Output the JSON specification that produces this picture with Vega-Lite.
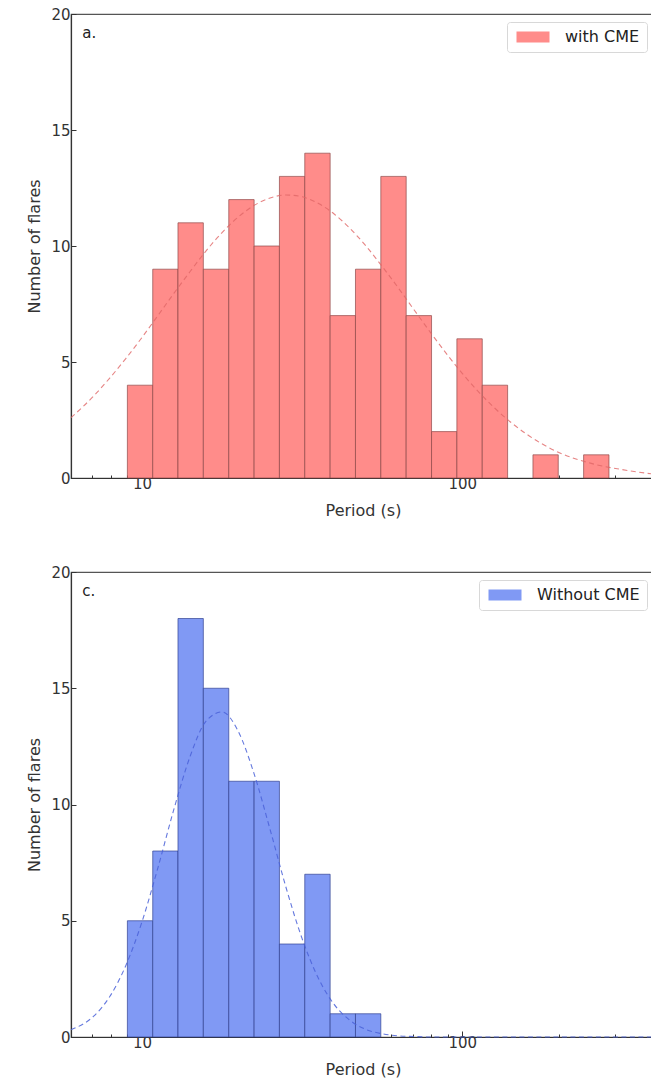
{
  "$schema": "https://vega.github.io/schema/vega-lite/v6.json",
  "background": "white",
  "padding": {"left": 26, "top": 6, "right": 0, "bottom": 0},
  "spacing": 45,
  "config": {
    "font": "DejaVu Sans",
    "view": {"stroke": "#555", "strokeWidth": 1.2},
    "axis": {
      "grid": false, "domainColor": "#333", "tickColor": "#333", "labelColor": "#333", "titleColor": "#333",
      "labelFont": "DejaVu Sans", "titleFont": "DejaVu Sans", "labelFontSize": 15, "titleFontSize": 16,
      "titleFontWeight": "normal", "domainWidth": 1.2, "tickWidth": 1, "zindex": 1
    },
    "legend": {
      "title": null, "orient": "top-right", "offset": 8, "padding": 7, "fillColor": "white",
      "strokeColor": "#d8d8d8", "cornerRadius": 3, "symbolType": "M-1,-1L5,-1L5,1L-1,1Z",
      "symbolSize": 121, "symbolStrokeWidth": 0, "symbolOpacity": 1, "labelFontSize": 16,
      "labelColor": "#222", "labelOffset": 35, "labelFont": "DejaVu Sans"
    }
  },
  "datasets": {
    "bars_with": [
      {"start": 9.00, "end": 10.80, "count": 4, "group": "with CME"},
      {"start": 10.80, "end": 12.95, "count": 9, "group": "with CME"},
      {"start": 12.95, "end": 15.54, "count": 11, "group": "with CME"},
      {"start": 15.54, "end": 18.66, "count": 9, "group": "with CME"},
      {"start": 18.66, "end": 22.39, "count": 12, "group": "with CME"},
      {"start": 22.39, "end": 26.86, "count": 10, "group": "with CME"},
      {"start": 26.86, "end": 32.23, "count": 13, "group": "with CME"},
      {"start": 32.23, "end": 38.68, "count": 14, "group": "with CME"},
      {"start": 38.68, "end": 46.41, "count": 7, "group": "with CME"},
      {"start": 46.41, "end": 55.69, "count": 9, "group": "with CME"},
      {"start": 55.69, "end": 66.83, "count": 13, "group": "with CME"},
      {"start": 66.83, "end": 80.20, "count": 7, "group": "with CME"},
      {"start": 80.20, "end": 96.23, "count": 2, "group": "with CME"},
      {"start": 96.23, "end": 115.5, "count": 6, "group": "with CME"},
      {"start": 115.5, "end": 138.6, "count": 4, "group": "with CME"},
      {"start": 166.3, "end": 199.5, "count": 1, "group": "with CME"},
      {"start": 239.4, "end": 287.3, "count": 1, "group": "with CME"}
    ],
    "bars_without": [
      {"start": 9.00, "end": 10.80, "count": 5, "group": "Without CME"},
      {"start": 10.80, "end": 12.95, "count": 8, "group": "Without CME"},
      {"start": 12.95, "end": 15.54, "count": 18, "group": "Without CME"},
      {"start": 15.54, "end": 18.66, "count": 15, "group": "Without CME"},
      {"start": 18.66, "end": 22.39, "count": 11, "group": "Without CME"},
      {"start": 22.39, "end": 26.86, "count": 11, "group": "Without CME"},
      {"start": 26.86, "end": 32.23, "count": 4, "group": "Without CME"},
      {"start": 32.23, "end": 38.68, "count": 7, "group": "Without CME"},
      {"start": 38.68, "end": 46.41, "count": 1, "group": "Without CME"},
      {"start": 46.41, "end": 55.69, "count": 1, "group": "Without CME"}
    ],
    "fit_with": [
      {"period": 6.0, "fit": 2.60}, {"period": 7.08, "fit": 3.55}, {"period": 7.94, "fit": 4.32},
      {"period": 8.91, "fit": 5.16}, {"period": 10, "fit": 6.06}, {"period": 11.22, "fit": 7.01},
      {"period": 12.59, "fit": 7.97}, {"period": 14.13, "fit": 8.90}, {"period": 15.85, "fit": 9.79},
      {"period": 17.78, "fit": 10.58}, {"period": 19.95, "fit": 11.24}, {"period": 22.39, "fit": 11.75},
      {"period": 25.12, "fit": 12.07}, {"period": 28.18, "fit": 12.20}, {"period": 31.62, "fit": 12.12},
      {"period": 35.48, "fit": 11.84}, {"period": 39.81, "fit": 11.38}, {"period": 44.67, "fit": 10.75},
      {"period": 50.12, "fit": 9.99}, {"period": 56.23, "fit": 9.12}, {"period": 63.1, "fit": 8.20},
      {"period": 70.79, "fit": 7.24}, {"period": 79.43, "fit": 6.29}, {"period": 89.13, "fit": 5.37},
      {"period": 100, "fit": 4.51}, {"period": 125.9, "fit": 3.03}, {"period": 158.5, "fit": 1.90},
      {"period": 199.5, "fit": 1.11}, {"period": 251.2, "fit": 0.64}, {"period": 316.2, "fit": 0.36},
      {"period": 400, "fit": 0.16}
    ],
    "fit_without": [
      {"period": 6.0, "fit": 0.31}, {"period": 7.08, "fit": 0.91}, {"period": 7.94, "fit": 1.75},
      {"period": 8.91, "fit": 3.09}, {"period": 10, "fit": 4.96}, {"period": 11.22, "fit": 7.30},
      {"period": 12.59, "fit": 9.82}, {"period": 14.13, "fit": 12.07}, {"period": 15.85, "fit": 13.59},
      {"period": 17.78, "fit": 13.98}, {"period": 19.95, "fit": 13.16}, {"period": 22.39, "fit": 11.32},
      {"period": 25.12, "fit": 8.92}, {"period": 28.18, "fit": 6.42}, {"period": 31.62, "fit": 4.23},
      {"period": 35.48, "fit": 2.55}, {"period": 39.81, "fit": 1.40}, {"period": 44.67, "fit": 0.71},
      {"period": 50.12, "fit": 0.32}, {"period": 56.23, "fit": 0.14}, {"period": 63.1, "fit": 0.05},
      {"period": 70.79, "fit": 0.02}, {"period": 79.43, "fit": 0.0}, {"period": 100, "fit": 0.0},
      {"period": 200, "fit": 0.0}, {"period": 400, "fit": 0.0}
    ],
    "label_a": [{"label": "a."}],
    "label_c": [{"label": "c."}]
  },
  "vconcat": [
    {
      "width": 584, "height": 464,
      "resolve": {"axis": {"x": "independent"}},
      "layer": [
        {
          "data": {"name": "bars_with"},
          "mark": {"type": "rect", "stroke": "#8b4545", "strokeWidth": 0.8, "strokeOpacity": 0.85},
          "encoding": {
            "x": {"field": "start", "type": "quantitative", "scale": {"type": "log", "domain": [6, 400], "nice": false},
                  "axis": {"orient": "bottom", "values": [10, 100], "format": "d", "tickSize": -6, "labelPadding": 4, "title": "Period (s)", "titlePadding": 11}},
            "x2": {"field": "end"},
            "y": {"field": "count", "type": "quantitative", "scale": {"domain": [0, 20], "nice": false},
                  "axis": {"values": [0, 5, 10, 15, 20], "tickSize": -5, "labelPadding": 6, "title": "Number of flares", "titlePadding": 8}},
            "y2": {"datum": 0},
            "color": {"field": "group", "type": "nominal", "scale": {"domain": ["with CME"], "range": ["#ff8c8a"]}}
          }
        },
        {
          "data": {"name": "fit_with"},
          "mark": {"type": "line", "color": "#e06666", "strokeWidth": 1.1, "strokeDash": [5, 3.5], "interpolate": "monotone", "opacity": 0.8},
          "encoding": {
            "x": {"field": "period", "type": "quantitative", "scale": {"type": "log", "domain": [6, 400], "nice": false},
                  "axis": {"orient": "bottom", "values": [6, 7, 8, 9, 20, 30, 40, 50, 60, 70, 80, 90, 200, 300], "labels": false, "tickSize": -3, "domain": false, "title": null}},
            "y": {"field": "fit", "type": "quantitative", "scale": {"domain": [0, 20], "nice": false},
                  "axis": {"values": [0, 5, 10, 15, 20], "tickSize": -5, "labelPadding": 6, "title": "Number of flares", "titlePadding": 8}}
          }
        },
        {
          "data": {"name": "label_a"},
          "mark": {"type": "text", "align": "left", "baseline": "middle", "fontSize": 15, "color": "#222"},
          "encoding": {
            "x": {"datum": 6.51, "type": "quantitative", "scale": {"type": "log", "domain": [6, 400], "nice": false}, "axis": null},
            "y": {"datum": 19.2, "type": "quantitative", "scale": {"domain": [0, 20], "nice": false},
                  "axis": {"values": [0, 5, 10, 15, 20], "tickSize": -5, "labelPadding": 6, "title": "Number of flares", "titlePadding": 8}},
            "text": {"field": "label"}
          }
        }
      ]
    },
    {
      "width": 584, "height": 465,
      "resolve": {"axis": {"x": "independent"}},
      "layer": [
        {
          "data": {"name": "bars_without"},
          "mark": {"type": "rect", "stroke": "#2e3f8f", "strokeWidth": 0.8, "strokeOpacity": 0.85},
          "encoding": {
            "x": {"field": "start", "type": "quantitative", "scale": {"type": "log", "domain": [6, 400], "nice": false},
                  "axis": {"orient": "bottom", "values": [10, 100], "format": "d", "tickSize": -6, "labelPadding": 4, "title": "Period (s)", "titlePadding": 11}},
            "x2": {"field": "end"},
            "y": {"field": "count", "type": "quantitative", "scale": {"domain": [0, 20], "nice": false},
                  "axis": {"values": [0, 5, 10, 15, 20], "tickSize": -5, "labelPadding": 6, "title": "Number of flares", "titlePadding": 8}},
            "y2": {"datum": 0},
            "color": {"field": "group", "type": "nominal", "scale": {"domain": ["Without CME"], "range": ["#8099f4"]}}
          }
        },
        {
          "data": {"name": "fit_without"},
          "mark": {"type": "line", "color": "#4a62d8", "strokeWidth": 1.1, "strokeDash": [5, 3.5], "interpolate": "monotone", "opacity": 0.85},
          "encoding": {
            "x": {"field": "period", "type": "quantitative", "scale": {"type": "log", "domain": [6, 400], "nice": false},
                  "axis": {"orient": "bottom", "values": [6, 7, 8, 9, 20, 30, 40, 50, 60, 70, 80, 90, 200, 300], "labels": false, "tickSize": -3, "domain": false, "title": null}},
            "y": {"field": "fit", "type": "quantitative", "scale": {"domain": [0, 20], "nice": false},
                  "axis": {"values": [0, 5, 10, 15, 20], "tickSize": -5, "labelPadding": 6, "title": "Number of flares", "titlePadding": 8}}
          }
        },
        {
          "data": {"name": "label_c"},
          "mark": {"type": "text", "align": "left", "baseline": "middle", "fontSize": 15, "color": "#222"},
          "encoding": {
            "x": {"datum": 6.51, "type": "quantitative", "scale": {"type": "log", "domain": [6, 400], "nice": false}, "axis": null},
            "y": {"datum": 19.2, "type": "quantitative", "scale": {"domain": [0, 20], "nice": false},
                  "axis": {"values": [0, 5, 10, 15, 20], "tickSize": -5, "labelPadding": 6, "title": "Number of flares", "titlePadding": 8}},
            "text": {"field": "label"}
          }
        }
      ]
    }
  ],
  "resolve": {"scale": {"color": "independent"}}
}
